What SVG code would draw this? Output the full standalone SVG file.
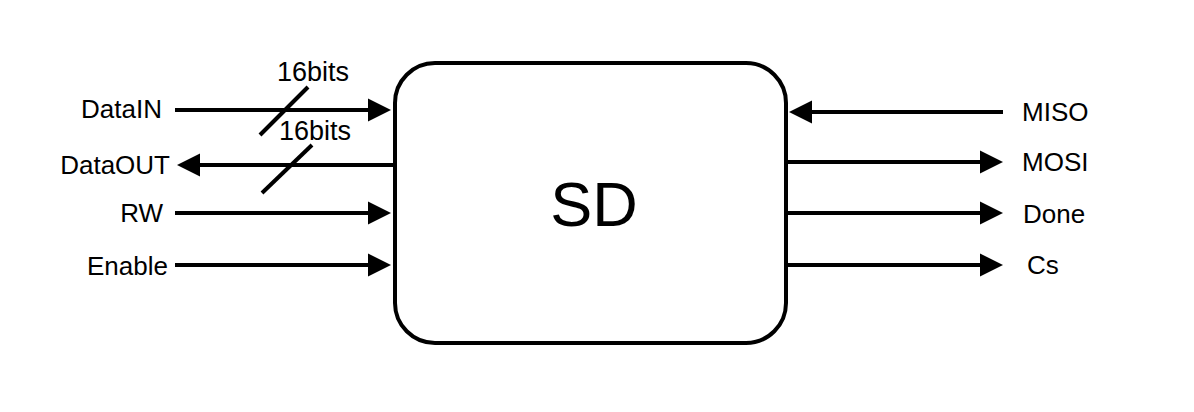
<svg xmlns="http://www.w3.org/2000/svg" width="1194" height="412" viewBox="0 0 1194 412">
<style>
text{font-family:"Liberation Sans",Arial,Helvetica,sans-serif;fill:#000}
.lbl{font-size:26px}
.bits{font-size:27px}
.wire{stroke:#000;stroke-width:4;fill:none}
</style>
<defs>
<marker id="ah" markerUnits="userSpaceOnUse" markerWidth="24" markerHeight="24" refX="0" refY="11.5" orient="auto" overflow="visible">
<path d="M0,0 L23,11.5 L0,23 Z" fill="#000"/>
</marker>
</defs>
<rect width="1194" height="412" fill="#fff"/>
<g id="node-SD">
<rect x="395" y="63" width="391" height="280" rx="40" ry="40" fill="#fff" stroke="#000" stroke-width="4"/>
<text x="594" y="226" font-size="63" text-anchor="middle">SD</text>
</g>
<g id="connectors">
<line class="wire" x1="175" y1="110" x2="368" y2="110" marker-end="url(#ah)"/>
<line class="wire" x1="393" y1="165" x2="200" y2="165" marker-end="url(#ah)"/>
<line class="wire" x1="175" y1="213" x2="368" y2="213" marker-end="url(#ah)"/>
<line class="wire" x1="175" y1="265" x2="368" y2="265" marker-end="url(#ah)"/>
<line class="wire" x1="1003" y1="112" x2="812" y2="112" marker-end="url(#ah)"/>
<line class="wire" x1="788" y1="162" x2="980" y2="162" marker-end="url(#ah)"/>
<line class="wire" x1="788" y1="213" x2="980" y2="213" marker-end="url(#ah)"/>
<line class="wire" x1="788" y1="265" x2="980" y2="265" marker-end="url(#ah)"/>
<line class="wire" x1="260" y1="135" x2="308" y2="87"/>
<line class="wire" x1="262" y1="193" x2="312" y2="145"/>
</g>
<g id="labels">
<text class="bits" x="313" y="81" text-anchor="middle">16bits</text>
<text class="bits" x="315" y="140" text-anchor="middle">16bits</text>
<text class="lbl" x="162" y="118" text-anchor="end">DataIN</text>
<text class="lbl" x="170" y="174" text-anchor="end">DataOUT</text>
<text class="lbl" x="163" y="222" text-anchor="end">RW</text>
<text class="lbl" x="168" y="275" text-anchor="end">Enable</text>
<text class="lbl" x="1022" y="121">MISO</text>
<text class="lbl" x="1022" y="171">MOSI</text>
<text class="lbl" x="1023" y="223">Done</text>
<text class="lbl" x="1027" y="274">Cs</text>
</g>
</svg>
